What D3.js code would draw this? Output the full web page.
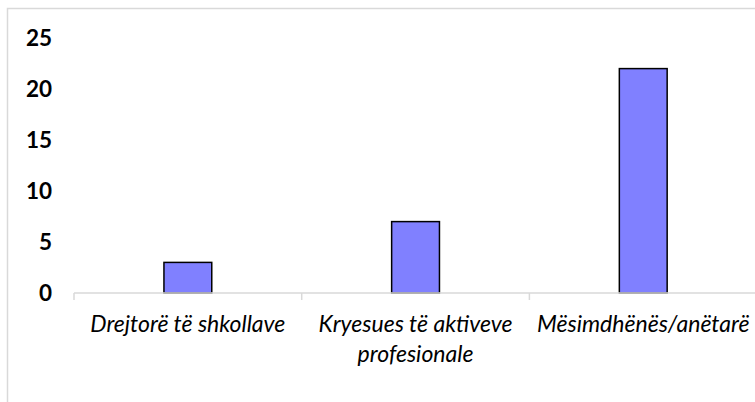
<!DOCTYPE html>
<html>
<head>
<meta charset="utf-8">
<script src="https://cdn.jsdelivr.net/npm/d3@7"></script>
<style>
  body { margin: 0; background: #fff; overflow: hidden; }
  text { font-family: Lato, "Open Sans", sans-serif; }
</style>
</head>
<body>
<svg class="chart"></svg>
<script>
// Data
var categories = ["Drejtorë të shkollave", "Kryesues të aktiveve profesionale", "Mësimdhënës/anëtarë"];
var values = [3, 7, 22];
var yTicks = [0, 5, 10, 15, 20, 25];

var w = 755,
    h = 402;

var svg = d3.select(".chart")
    .attr("width", w)
    .attr("height", h);

// Chart border (runs past the right and bottom edge like the reference)
svg.append("rect")
    .attr("x", 7.5)
    .attr("y", 8.5)
    .attr("width", 1000)
    .attr("height", 500)
    .attr("fill", "none")
    .attr("stroke", "#d9d9d9")
    .attr("stroke-width", 1.5);

var margin = { top: 38, left: 74 },
    bandW = 227.7,
    plotH = 255;

var g = svg.append("g").attr("transform", "translate(" + margin.left + "," + margin.top + ")");

var x = d3.scaleBand()
    .domain(categories)
    .range([0, bandW * categories.length])
    .paddingInner(0.79)
    .paddingOuter(0.395);

var y = d3.scaleLinear()
    .domain([0, 25])
    .range([plotH, 0]);

// Y axis: labels only
var yAxis = g.append("g")
    .call(d3.axisLeft(y).tickValues(yTicks).tickSize(0).tickPadding(22));
yAxis.select(".domain").remove();
yAxis.selectAll("text")
    .attr("font-family", "Lato, sans-serif")
    .attr("font-size", 22.5)
    .attr("font-weight", "bold")
    .attr("fill", "#000");

// Bars
g.selectAll(".bar")
    .data(values)
    .enter().append("rect")
    .attr("class", "bar")
    .attr("x", function(d, i) { return x(categories[i]); })
    .attr("y", function(d) { return y(d); })
    .attr("width", x.bandwidth())
    .attr("height", function(d) { return plotH - y(d); })
    .attr("fill", "#8080ff")
    .attr("stroke", "#000")
    .attr("stroke-width", 1.5);

// X axis line and category boundary ticks
var xa = g.append("g").attr("transform", "translate(0," + plotH + ")");
xa.append("line")
    .attr("x1", 0).attr("x2", bandW * categories.length)
    .attr("stroke", "#d9d9d9").attr("stroke-width", 1.5);
xa.selectAll(".tk")
    .data(d3.range(categories.length + 1))
    .enter().append("line")
    .attr("x1", function(d) { return d * bandW; })
    .attr("x2", function(d) { return d * bandW; })
    .attr("y1", 0).attr("y2", 7)
    .attr("stroke", "#d9d9d9").attr("stroke-width", 1.5);

// Category labels, wrapped like the original
var lines = [["Drejtorë të shkollave"], ["Kryesues të aktiveve", "profesionale"], ["Mësimdhënës/anëtarë"]];
xa.selectAll(".lbl")
    .data(categories)
    .enter().append("text")
    .attr("text-anchor", "middle")
    .attr("font-size", 23)
    .attr("font-style", "italic")
    .attr("fill", "#000")
    .each(function(d, i) {
        var t = d3.select(this);
        lines[i].forEach(function(s, k) {
            t.append("tspan")
                .attr("x", x(d) + x.bandwidth() / 2)
                .attr("y", 39 + k * 30)
                .text(s);
        });
    });
</script>
</body>
</html>
